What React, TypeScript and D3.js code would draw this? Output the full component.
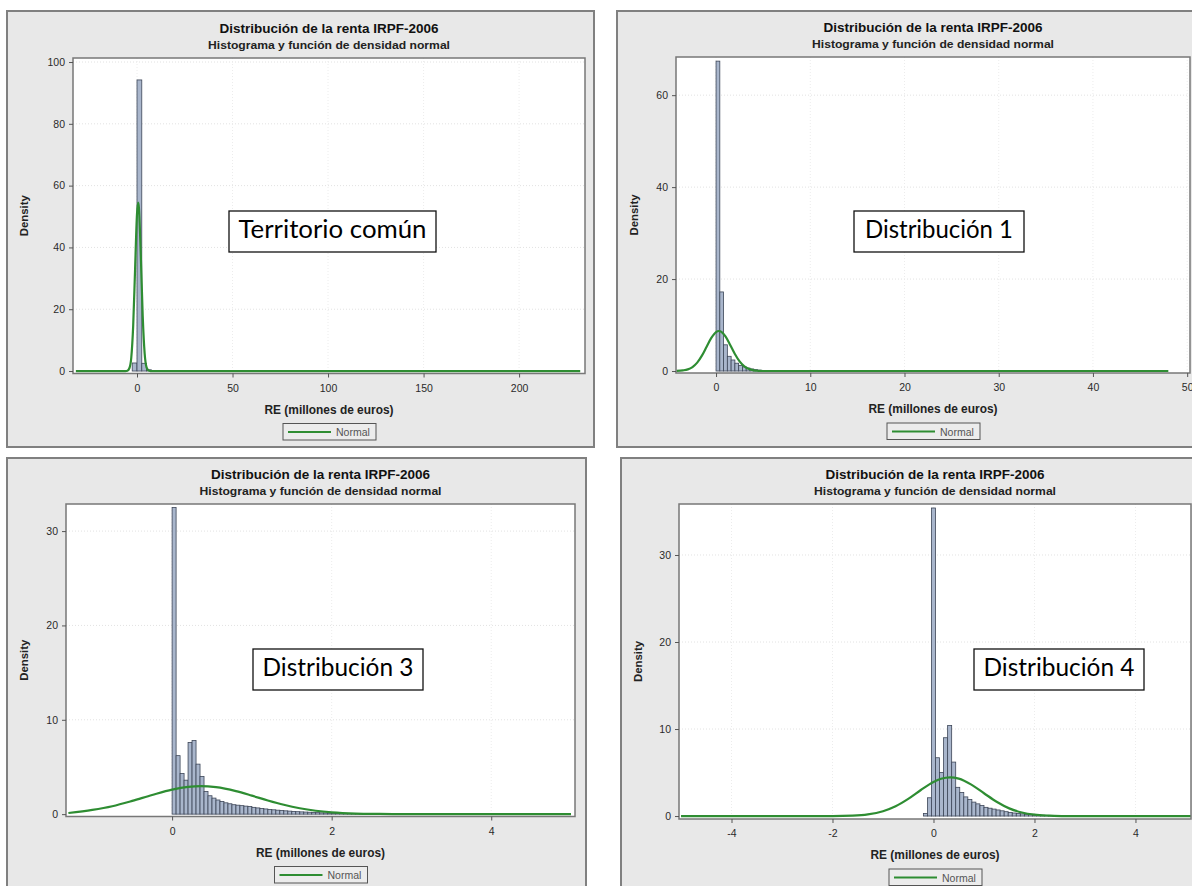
import React, { useEffect, useRef } from "react";
import * as d3 from "d3";

const W = 1192;
const H = 886;

const chartTitle = "Distribución de la renta IRPF-2006";
const chartSubtitle = "Histograma y función de densidad normal";
const xAxisLabel = "RE (millones de euros)";
const yAxisLabel = "Density";
const legendLabel = "Normal";

// Territorio común
const tcName = "Territorio común";
const tcBinStart = -2.5;
const tcBinWidth = 2.5;
const tcDensity = [2.6, 94.2, 2.5, 0.4];
const tcNormalX = [-32, -6, -5, -4, -3, -2, -1, 0, 0.6, 1, 2, 3, 4, 5, 6, 7, 232];
const tcNormalY = [0, 0, 0.12, 0.9, 4.3, 14.6, 33, 50.8, 54.5, 52.8, 37.2, 17.7, 5.7, 1.2, 0.2, 0, 0];
const tcXTicks = [0, 50, 100, 150, 200];
const tcYTicks = [0, 20, 40, 60, 80, 100];
const tcXDomain = [-33.5, 234.5];
const tcYDomain = [-0.8, 101.3];

// Distribución 1
const d1Name = "Distribución 1";
const d1BinStart = 0;
const d1BinWidth = 0.4;
const d1Density = [67.4, 17.2, 5.7, 3.2, 2.4, 1.7, 1.2, 0.9, 0.65, 0.45, 0.3, 0.2, 0.12, 0.08];
const d1NormalX = [-4.2, -3.5, -3, -2.5, -2, -1.5, -1, -0.5, 0, 0.3, 0.6, 1, 1.5, 2, 2.5, 3, 3.5, 4, 4.5, 5, 6, 48];
const d1NormalY = [0.05, 0.15, 0.35, 0.86, 1.82, 3.34, 5.28, 7.2, 8.47, 8.7, 8.47, 7.53, 5.68, 3.7, 2.08, 1.0, 0.42, 0.15, 0.05, 0.01, 0, 0];
const d1XTicks = [0, 10, 20, 30, 40, 50];
const d1YTicks = [0, 20, 40, 60];
const d1XDomain = [-4.25, 50.3];
const d1YDomain = [-0.43, 68.3];

// Distribución 3
const d3Name = "Distribución 3";
const d3BinStart = 0;
const d3BinWidth = 0.05;
const d3Density = [
  32.5, 6.2, 4.3, 3.6, 7.6, 7.8, 5.3, 4.0, 2.4, 1.95, 1.7, 1.5, 1.35, 1.2, 1.1, 1.0,
  0.95, 0.9, 0.85, 0.8, 0.72, 0.66, 0.6, 0.55, 0.5, 0.46, 0.42, 0.38, 0.35, 0.32, 0.29, 0.26,
  0.24, 0.22, 0.2, 0.18, 0.16, 0.14, 0.13, 0.12, 0.11, 0.1, 0.09, 0.08, 0.07, 0.06, 0.05, 0.05, 0.04,
];
const d3NormalX = [-1.3, -1.0, -0.75, -0.5, -0.25, 0, 0.2, 0.36, 0.55, 0.8, 1.0, 1.2, 1.4, 1.6, 1.8, 2.0, 2.3, 2.6, 3.0, 5.0];
const d3NormalY = [0.12, 0.45, 0.84, 1.4, 2.03, 2.6, 2.89, 2.97, 2.86, 2.44, 1.96, 1.45, 0.99, 0.62, 0.36, 0.19, 0.06, 0.02, 0, 0];
const d3XTicks = [0, 2, 4];
const d3YTicks = [0, 10, 20, 30];
const d3XDomain = [-1.33, 5.05];
const d3YDomain = [-0.25, 32.87];

// Distribución 4
const d4Name = "Distribución 4";
const d4BinStart = -0.2;
const d4BinWidth = 0.08;
const d4Density = [
  0.3, 2.1, 35.4, 6.7, 5.0, 9.0, 10.4, 6.2, 3.3, 2.7, 2.2, 1.9, 1.6, 1.4, 1.2, 1.0,
  0.9, 0.8, 0.7, 0.6, 0.5, 0.42, 0.35, 0.3, 0.25, 0.2, 0.16, 0.13, 0.11, 0.09, 0.08, 0.07,
  0.06, 0.05, 0.04, 0.03, 0.03, 0.02, 0.02, 0.02,
];
const d4NormalX = [-5, -2.0, -1.6, -1.3, -1.0, -0.75, -0.5, -0.25, 0, 0.15, 0.33, 0.5, 0.75, 1.0, 1.25, 1.5, 1.75, 2.0, 2.3, 2.6, 5.1];
const d4NormalY = [0, 0, 0.05, 0.19, 0.55, 1.12, 1.97, 2.99, 3.91, 4.28, 4.45, 4.3, 3.61, 2.62, 1.64, 0.88, 0.41, 0.16, 0.05, 0, 0];
const d4XTicks = [-4, -2, 0, 2, 4];
const d4YTicks = [0, 10, 20, 30];
const d4XDomain = [-5.04, 5.1];
const d4YDomain = [-0.34, 35.86];

const panels = [
  { name: tcName, binStart: tcBinStart, binWidth: tcBinWidth, density: tcDensity, nx: tcNormalX, ny: tcNormalY, xTicks: tcXTicks, yTicks: tcYTicks, xDomain: tcXDomain, yDomain: tcYDomain },
  { name: d1Name, binStart: d1BinStart, binWidth: d1BinWidth, density: d1Density, nx: d1NormalX, ny: d1NormalY, xTicks: d1XTicks, yTicks: d1YTicks, xDomain: d1XDomain, yDomain: d1YDomain },
  { name: d3Name, binStart: d3BinStart, binWidth: d3BinWidth, density: d3Density, nx: d3NormalX, ny: d3NormalY, xTicks: d3XTicks, yTicks: d3YTicks, xDomain: d3XDomain, yDomain: d3YDomain },
  { name: d4Name, binStart: d4BinStart, binWidth: d4BinWidth, density: d4Density, nx: d4NormalX, ny: d4NormalY, xTicks: d4XTicks, yTicks: d4YTicks, xDomain: d4XDomain, yDomain: d4YDomain },
];

// where each panel sits on the page
const layouts = [
  { frame: { x: 7, y: 11, w: 587, h: 436 }, plot: { l: 73, t: 58, r: 585, b: 373.5 }, tag: { x: 229, y: 211, w: 207, h: 41, tw: 188 } },
  { frame: { x: 617, y: 11, w: 600, h: 436 }, plot: { l: 676, t: 57, r: 1190, b: 373 }, tag: { x: 854, y: 211, w: 170, h: 41, tw: 148 } },
  { frame: { x: 7, y: 458, w: 579, h: 450 }, plot: { l: 66, t: 504, r: 575, b: 816.5 }, tag: { x: 253, y: 649, w: 170, h: 41, tw: 151 } },
  { frame: { x: 621, y: 458, w: 600, h: 450 }, plot: { l: 679, t: 504, r: 1191, b: 819 }, tag: { x: 974, y: 649, w: 170, h: 41, tw: 151 } },
];

const FONT = "'Liberation Sans', Arial, sans-serif";
const GREEN = "#2e8d32";

function drawPanel(svg: any, p: any, L: any, idx: number) {
  const g = svg.append("g");
  const { l, t, r, b } = L.plot;
  const x = d3.scaleLinear().domain(p.xDomain).range([l, r]);
  const y = d3.scaleLinear().domain(p.yDomain).range([b, t]);
  const cx = (l + r) / 2;

  g.append("rect")
    .attr("x", L.frame.x).attr("y", L.frame.y)
    .attr("width", L.frame.w).attr("height", L.frame.h)
    .attr("fill", "#e8e8e8").attr("stroke", "#808080").attr("stroke-width", 2);

  g.append("rect")
    .attr("x", l).attr("y", t).attr("width", r - l).attr("height", b - t)
    .attr("fill", "#fff");

  // faint grid
  g.selectAll(".gy").data(p.yTicks.filter((d: number) => d !== 0)).enter().append("line")
    .attr("x1", l).attr("x2", r).attr("y1", (d: number) => y(d)).attr("y2", (d: number) => y(d))
    .attr("stroke", "#e2e2e2").attr("stroke-dasharray", "1,2");
  g.selectAll(".gx").data(p.xTicks).enter().append("line")
    .attr("y1", t).attr("y2", b).attr("x1", (d: number) => x(d)).attr("x2", (d: number) => x(d))
    .attr("stroke", "#ececec").attr("stroke-dasharray", "1,2");

  const clipId = "clip" + idx;
  svg.append("clipPath").attr("id", clipId).append("rect")
    .attr("x", l).attr("y", t).attr("width", r - l).attr("height", b - t);
  const inner = g.append("g").attr("clip-path", `url(#${clipId})`);

  inner.selectAll(".bar").data(p.density).enter().append("rect")
    .attr("x", (d: number, i: number) => x(p.binStart + i * p.binWidth))
    .attr("width", (d: number, i: number) => x(p.binStart + (i + 1) * p.binWidth) - x(p.binStart + i * p.binWidth))
    .attr("y", (d: number) => y(d))
    .attr("height", (d: number) => y(0) - y(d))
    .attr("fill", "#a9b6cc").attr("stroke", "#3d4658").attr("stroke-width", 0.8);

  const pts = p.nx.map((v: number, i: number) => [v, p.ny[i]]);
  const line = d3.line().x((d: any) => x(d[0])).y((d: any) => y(d[1])).curve(d3.curveMonotoneX);
  inner.append("path").datum(pts).attr("d", line)
    .attr("fill", "none").attr("stroke", GREEN).attr("stroke-width", 2.2);

  g.append("rect")
    .attr("x", l).attr("y", t).attr("width", r - l).attr("height", b - t)
    .attr("fill", "none").attr("stroke", "#777").attr("stroke-width", 1.5);

  const yAxis = g.append("g").attr("transform", `translate(${l},0)`)
    .call(d3.axisLeft(y).tickValues(p.yTicks).tickSize(4).tickPadding(4).tickFormat((d: any) => String(d)));
  const xAxis = g.append("g").attr("transform", `translate(0,${b})`)
    .call(d3.axisBottom(x).tickValues(p.xTicks).tickSize(4).tickPadding(7).tickFormat((d: any) => String(d)));
  [yAxis, xAxis].forEach((a: any) => {
    a.select(".domain").remove();
    a.selectAll("line").attr("stroke", "#555");
    a.selectAll("text").attr("fill", "#2a2a2a").attr("font-size", 10.5).attr("font-family", FONT);
  });

  g.append("text").attr("x", cx).attr("y", t - 25).attr("text-anchor", "middle")
    .attr("font-family", FONT).attr("font-weight", "bold").attr("font-size", 13.5).attr("fill", "#111")
    .attr("textLength", 219).attr("lengthAdjust", "spacingAndGlyphs").text(chartTitle);
  g.append("text").attr("x", cx).attr("y", t - 9).attr("text-anchor", "middle")
    .attr("font-family", FONT).attr("font-weight", "bold").attr("font-size", 11.5).attr("fill", "#222")
    .attr("textLength", 242).attr("lengthAdjust", "spacingAndGlyphs").text(chartSubtitle);

  g.append("text").attr("x", cx).attr("y", b + 40).attr("text-anchor", "middle")
    .attr("font-family", FONT).attr("font-weight", "bold").attr("font-size", 12.5).attr("fill", "#222")
    .attr("textLength", 129).attr("lengthAdjust", "spacingAndGlyphs").text(xAxisLabel);

  const yc = (t + b) / 2;
  g.append("text").attr("transform", `translate(${L.frame.x + 21},${yc}) rotate(-90)`)
    .attr("text-anchor", "middle")
    .attr("font-family", FONT).attr("font-weight", "bold").attr("font-size", 11.5).attr("fill", "#222")
    .attr("textLength", 41).attr("lengthAdjust", "spacingAndGlyphs").text(yAxisLabel);

  // legend
  const lg = g.append("g").attr("transform", `translate(${cx},${b + 50})`);
  lg.append("rect").attr("x", -46).attr("y", 0).attr("width", 93).attr("height", 16.5)
    .attr("fill", "#ececec").attr("stroke", "#555").attr("stroke-width", 1);
  lg.append("line").attr("x1", -41).attr("x2", 2).attr("y1", 8.5).attr("y2", 8.5)
    .attr("stroke", GREEN).attr("stroke-width", 2);
  lg.append("text").attr("x", 7).attr("y", 12.5)
    .attr("font-family", FONT).attr("font-size", 10.5).attr("fill", "#555").text(legendLabel);

  // overlay tag
  const T = L.tag;
  g.append("rect").attr("x", T.x).attr("y", T.y).attr("width", T.w).attr("height", T.h)
    .attr("fill", "#fff").attr("stroke", "#111").attr("stroke-width", 1.3);
  g.append("text").attr("x", T.x + T.w / 2).attr("y", T.y + 26.5).attr("text-anchor", "middle")
    .attr("font-family", "Lato, 'Open Sans', sans-serif").attr("font-size", 25).attr("fill", "#000")
    .attr("textLength", T.tw).attr("lengthAdjust", "spacingAndGlyphs").text(p.name);
}

export default function App() {
  const ref = useRef<SVGSVGElement>(null);
  useEffect(() => {
    const svg = d3.select(ref.current);
    svg.selectAll("*").remove();
    panels.forEach((p, i) => drawPanel(svg, p, layouts[i], i));
  }, []);
  return (
    <svg
      ref={ref}
      width={W}
      height={H}
      style={{ position: "absolute", left: 0, top: 0, display: "block", background: "#fff" }}
    />
  );
}
